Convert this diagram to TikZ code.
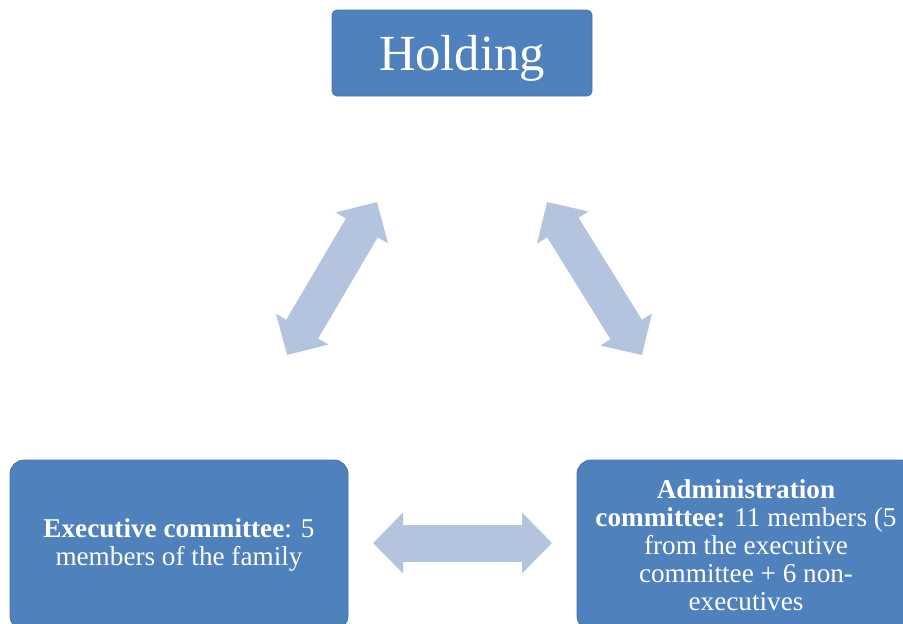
\documentclass[tikz,border=0pt]{standalone}
\usepackage{fontspec}
\setmainfont{Liberation Serif}
\usetikzlibrary{arrows.meta}
\definecolor{boxblue}{RGB}{79,129,189}
\definecolor{linkblue}{RGB}{180,195,222}
\tikzset{ box/.style = { rectangle % committee box
        , fill = boxblue
        , draw = boxblue!90!black
        , line width = 0.4pt
        , text = white
        , align = center
        }
        , big/.style = { box % top box
        , minimum width = 130pt
        , minimum height = 43pt
        , rounded corners = 2.5pt
        , text depth = 0pt
        , font = \fontsize{25.3}{28}\selectfont
        }
        , small/.style = { box % lower boxes
        , minimum width = 169pt
        , minimum height = 85pt
        , rounded corners = 7pt
        , font = \fontsize{13.6}{14}\selectfont
        }
        }

\begin{document}
\begin{tikzpicture}[x=0.5pt, y=-0.5pt,
        link_style/.style={draw=linkblue, line width=18.5pt,
            {Triangle[width=29.5pt,length=15pt]}-{Triangle[width=29.5pt,length=15pt]}}]
        \clip (0,0) rectangle (903,623);

        \node [big](hold) at (462,53) {Holding};
        \node [small](exec) at (179,545) {\textbf{Executive committee}: 5\\members of the family};
        \node [small](admin) at (746,545) {\textbf{Administration}\\\textbf{committee:} 11 members (5\\from the executive\\committee + 6 non-\\executives};

        \coordinate (l1) at (287,355);
        \coordinate (l2) at (377,202);
        \coordinate (r1) at (547,202);
        \coordinate (r2) at (642,355);
        \coordinate (b1) at (373,543);
        \coordinate (b2) at (552,543);

        \draw [link_style] (l1) -- (l2);
        \draw [link_style] (r1) -- (r2);
        \draw [link_style] (b1) -- (b2);
\end{tikzpicture}
\end{document}
